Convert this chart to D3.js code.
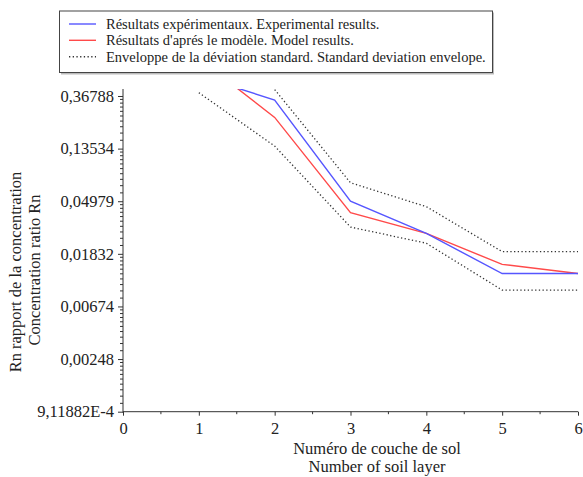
<!DOCTYPE html>
<html><head><meta charset="utf-8">
<script src="https://cdn.jsdelivr.net/npm/d3@7/dist/d3.min.js"></script>
<style>body{margin:0;background:#fff}svg{display:block}</style>
</head><body><svg id="c" width="583" height="477"></svg>
<script>
const layers = [1, 2, 3, 4, 5, 6];
const experimental = [0.54, 0.341, 0.0498, 0.027, 0.0126, 0.0126];
const model = [0.75, 0.245, 0.040, 0.027, 0.015, 0.0126];
const upperEnv = [1.0, 0.416, 0.0707, 0.0449, 0.0191, 0.0191];
const lowerEnv = [0.392, 0.142, 0.0305, 0.0224, 0.0092, 0.0092];
const yTickValues = [9.11882e-4, 0.00248, 0.00674, 0.01832, 0.04979, 0.13534, 0.36788];
const yTickLabels = ["9,11882E-4", "0,00248", "0,00674", "0,01832", "0,04979", "0,13534", "0,36788"];
const xTickValues = [0, 1, 2, 3, 4, 5, 6];
const legendLabels = ["Résultats expérimentaux. Experimental results.",
  "Résultats d'aprés le modèle. Model results.",
  "Enveloppe de la déviation standard. Standard deviation envelope."];

const FONT = "'Liberation Serif', 'DejaVu Serif', serif";
const svg = d3.select("#c");
const L = 123, R = 578, T = 89, B = 411.7;
const x = d3.scaleLinear().domain([0, 6]).range([L, R]);
const y = d3.scaleLog().domain([Math.exp(-7), Math.exp(-0.867)]).range([B, T]);

svg.append("defs").append("clipPath").attr("id", "clip")
  .append("rect").attr("x", L).attr("y", T).attr("width", R - L).attr("height", B - T);

// Y axis
const yAxis = d3.axisLeft(y).tickValues(yTickValues).tickSize(5).tickPadding(4)
  .tickFormat((d, i) => yTickLabels[i]);
const gy = svg.append("g").attr("transform", `translate(${L},0)`).call(yAxis)
  .attr("font-family", null).attr("font-size", null);
gy.select(".domain").attr("d", `M0,${T}V${B + 1}`).attr("stroke", "#333");
gy.selectAll(".tick line").attr("stroke", "#333").attr("x2", -5);
gy.selectAll(".tick text").style("font-size", "16.5px").attr("fill", "#222");
// minor y ticks
const minor = [];
for (let i = 0; i < yTickValues.length - 1; i++) {
  const a = yTickValues[i], b = yTickValues[i + 1];
  for (let k = 1; k < 10; k++) minor.push(a + k * (b - a) / 10);
}
gy.selectAll(".minor").data(minor).enter().append("line").attr("class", "minor")
  .attr("x1", -3).attr("x2", 0).attr("y1", d => y(d)).attr("y2", d => y(d))
  .attr("stroke", "#333");

// X axis
const xAxis = d3.axisBottom(x).tickValues(xTickValues).tickSize(4).tickPadding(7)
  .tickFormat(d3.format("d"));
const gx = svg.append("g").attr("transform", `translate(0,${B})`).call(xAxis)
  .attr("font-family", null).attr("font-size", null);
gx.select(".domain").attr("d", `M${L},0H${R}`).attr("stroke", "#333");
gx.selectAll(".tick line").attr("stroke", "#333");
gx.selectAll(".tick text").style("font-size", "16.5px").attr("fill", "#222");
gx.selectAll(".minorx").data(d3.range(0.5, 6, 1)).enter().append("line")
  .attr("x1", d => x(d)).attr("x2", d => x(d)).attr("y1", 0).attr("y2", 2.5).attr("stroke", "#333");

// Axis titles
svg.append("text").attr("x", 377).attr("y", 454).attr("text-anchor", "middle")
  .style("font-size", "16.5px").text("Numéro de couche de sol");
svg.append("text").attr("x", 377).attr("y", 472).attr("text-anchor", "middle")
  .style("font-size", "16.5px").text("Number of soil layer");
svg.append("text").attr("transform", "translate(21,272) rotate(-90)").attr("text-anchor", "middle")
  .style("font-size", "16.5px").text("Rn rapport de la concentration");
svg.append("text").attr("transform", "translate(40,270) rotate(-90)").attr("text-anchor", "middle")
  .style("font-size", "16.5px").text("Concentration ratio Rn");

// Lines
const line = d3.line().x((d, i) => x(layers[i])).y(d => y(d));
const plot = svg.append("g").attr("clip-path", "url(#clip)");
plot.append("path").datum(upperEnv).attr("d", line).attr("fill", "none")
  .attr("stroke", "#333").attr("stroke-width", 1.3).attr("stroke-dasharray", "1.3,2.4");
plot.append("path").datum(lowerEnv).attr("d", line).attr("fill", "none")
  .attr("stroke", "#333").attr("stroke-width", 1.3).attr("stroke-dasharray", "1.3,2.4");
plot.append("path").datum(model).attr("d", line).attr("fill", "none")
  .attr("stroke", "#ff4a4a").attr("stroke-width", 1.4);
plot.append("path").datum(experimental).attr("d", line).attr("fill", "none")
  .attr("stroke", "#5656ff").attr("stroke-width", 1.4);

// Legend
const lg = svg.append("g");
lg.append("rect").attr("x", 61).attr("y", 12.5).attr("width", 433).attr("height", 62).attr("fill", "#bbb");
lg.append("rect").attr("x", 59.5).attr("y", 11).attr("width", 433).attr("height", 61.5)
  .attr("fill", "#fff").attr("stroke", "#444").attr("stroke-width", 1);
const styles = [
  {c: "#5656ff", d: null}, {c: "#ff4a4a", d: null}, {c: "#333", d: "1.3,2.4"}];
const rowsY = [24, 40.3, 56.7];
legendLabels.forEach((t, i) => {
  lg.append("line").attr("x1", 69).attr("x2", 96).attr("y1", rowsY[i]).attr("y2", rowsY[i])
    .attr("stroke", styles[i].c).attr("stroke-width", 1.4)
    .attr("stroke-dasharray", styles[i].d);
  lg.append("text").attr("x", 106).attr("y", rowsY[i] + 4.8).style("font-size", "14.5px").text(t);
});

svg.selectAll("text").style("font-family", FONT).attr("fill", "#222");
</script></body></html>
